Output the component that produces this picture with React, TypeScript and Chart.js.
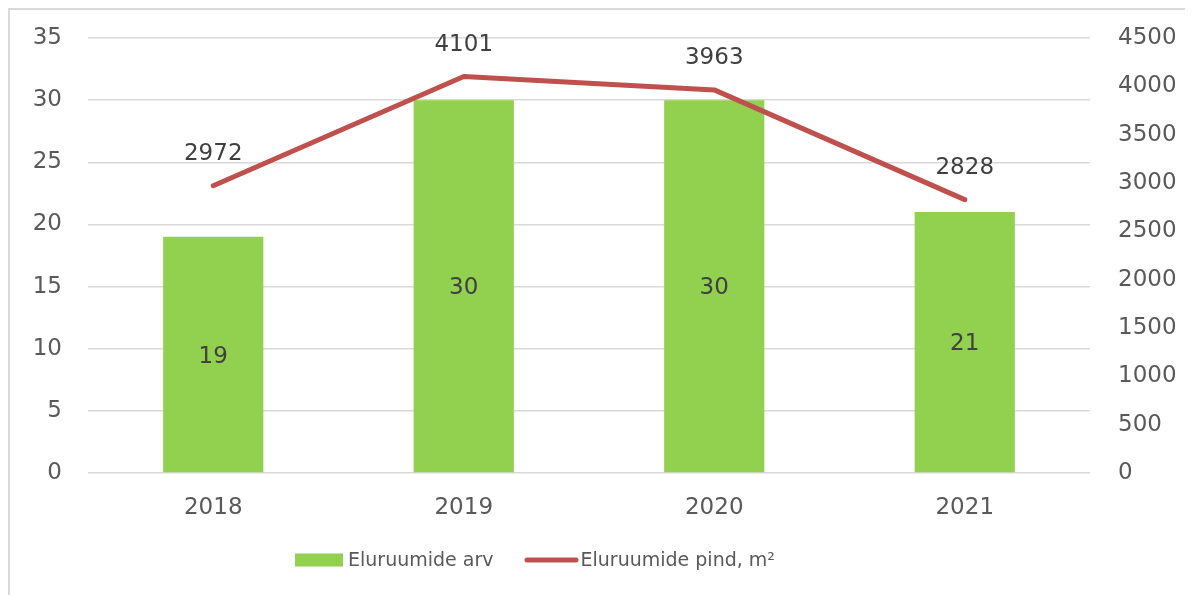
import React, { useEffect, useRef } from "react";
import { Chart, registerables } from "chart.js";

Chart.register(...registerables);

const categories = ["2018", "2019", "2020", "2021"];
const countValues = [19, 30, 30, 21];
const areaValues = [2972, 4101, 3963, 2828];
const countLabel = "Eluruumide arv";
const areaLabel = "Eluruumide pind, m²";
const leftMin = 0, leftMax = 35, leftStep = 5;
const rightMin = 0, rightMax = 4500, rightStep = 500;

const FONT = "'DejaVu Sans', sans-serif";
const GREEN = "#92D050";
const RED = "#C0504D";
const TICK_COLOR = "#595959";
const LABEL_COLOR = "#404040";
const GRID = "#d9d9d9";

const CW = 1175;
const CH = 585;

const dataLabelsPlugin = {
  id: "dataLabels",
  afterDatasetsDraw(chart: any) {
    const ctx = chart.ctx;
    ctx.save();
    ctx.font = `23px ${FONT}`;
    ctx.fillStyle = LABEL_COLOR;
    ctx.textAlign = "center";
    ctx.textBaseline = "middle";
    chart.data.datasets.forEach((ds: any, i: number) => {
      const meta = chart.getDatasetMeta(i);
      meta.data.forEach((el: any, j: number) => {
        const v = ds.data[j];
        if (ds.type === "bar") {
          const p = el.getProps(["x", "y", "base"], true);
          ctx.fillText(String(v), p.x, (p.y + p.base) / 2 + 2);
        } else {
          ctx.fillText(String(v), el.x, el.y - 32);
        }
      });
    });
    ctx.restore();
  },
};

const legendPlugin = {
  id: "customLegend",
  afterDraw(chart: any) {
    const ctx = chart.ctx;
    const ds = chart.data.datasets;
    ctx.save();
    ctx.font = `19px ${FONT}`;
    ctx.textBaseline = "middle";
    ctx.textAlign = "left";
    const cy = 550;
    let x = 285;
    ctx.fillStyle = ds[0].backgroundColor;
    ctx.fillRect(x, cy - 6.5, 48, 13);
    x += 53;
    ctx.fillStyle = TICK_COLOR;
    ctx.fillText(ds[0].label, x, cy + 1);
    x += ctx.measureText(ds[0].label).width + 31;
    ctx.strokeStyle = ds[1].borderColor;
    ctx.lineWidth = 5;
    ctx.lineCap = "round";
    ctx.beginPath();
    ctx.moveTo(x + 2.5, cy);
    ctx.lineTo(x + 51.5, cy);
    ctx.stroke();
    x += 56;
    ctx.fillText(ds[1].label, x, cy + 1);
    ctx.restore();
  },
};

const zeroVerticalPadding = (width: number) => (s: any) => {
  s.width = width;
  s.paddingTop = 0;
  s.paddingBottom = 0;
};

export default function App() {
  const ref = useRef<HTMLCanvasElement | null>(null);
  useEffect(() => {
    if (!ref.current) return;
    const chart = new Chart(ref.current, {
      data: {
        labels: categories,
        datasets: [
          {
            type: "bar",
            label: countLabel,
            data: countValues,
            backgroundColor: GREEN,
            yAxisID: "y",
            order: 2,
            categoryPercentage: 1,
            barPercentage: 0.4,
          },
          {
            type: "line",
            label: areaLabel,
            data: areaValues,
            borderColor: RED,
            backgroundColor: RED,
            borderWidth: 5,
            borderCapStyle: "round",
            borderJoinStyle: "round",
            pointRadius: 0,
            tension: 0,
            yAxisID: "y1",
            order: 1,
          },
        ],
      } as any,
      options: {
        responsive: false,
        animation: false,
        devicePixelRatio: 1,
        layout: { padding: { top: 28, left: 0, right: 0, bottom: 70 } },
        plugins: {
          tooltip: { enabled: false },
          legend: { display: false },
        },
        scales: {
          x: {
            grid: { display: false, drawTicks: false },
            border: { display: false },
            ticks: {
              font: { family: FONT, size: 23 },
              color: TICK_COLOR,
              padding: 21,
            },
            afterFit: (s: any) => {
              s.height = 52;
            },
          },
          y: {
            position: "left",
            min: leftMin,
            max: leftMax,
            ticks: {
              stepSize: leftStep,
              font: { family: FONT, size: 23 },
              color: TICK_COLOR,
              padding: 26,
              callback: (v: any) => String(v),
            },
            grid: { color: GRID, lineWidth: 1.5, drawTicks: false },
            border: { display: false },
            afterFit: zeroVerticalPadding(78),
          },
          y1: {
            position: "right",
            min: rightMin,
            max: rightMax,
            ticks: {
              stepSize: rightStep,
              font: { family: FONT, size: 23 },
              color: TICK_COLOR,
              padding: 28,
              callback: (v: any) => String(v),
            },
            grid: { display: false, drawTicks: false },
            border: { display: false },
            afterFit: zeroVerticalPadding(95),
          },
        },
      } as any,
      plugins: [dataLabelsPlugin, legendPlugin],
    });
    return () => chart.destroy();
  }, []);

  return (
    <div
      style={{
        position: "fixed",
        left: 8,
        top: 8,
        width: CW,
        height: CH,
        borderLeft: `2px solid ${GRID}`,
        borderTop: `2px solid ${GRID}`,
        background: "#fff",
      }}
    >
      <canvas ref={ref} width={CW} height={CH} style={{ display: "block", width: CW, height: CH }} />
    </div>
  );
}
